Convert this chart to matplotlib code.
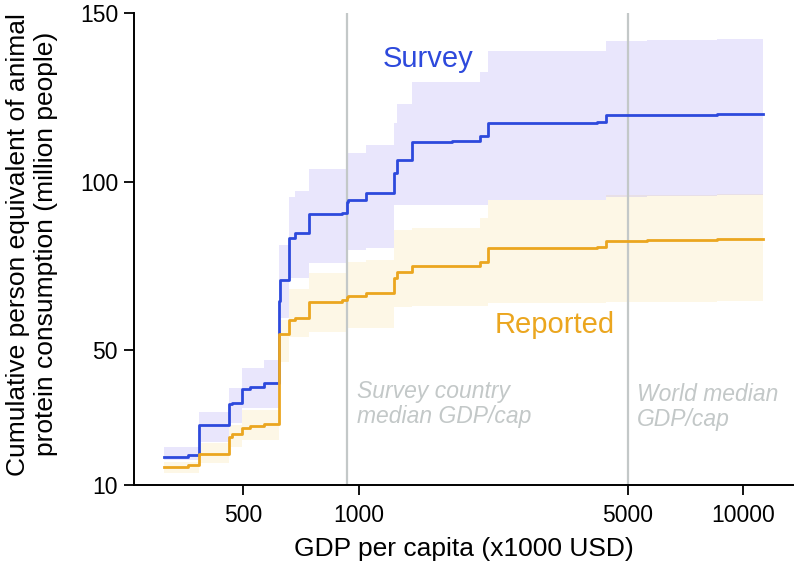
import matplotlib

matplotlib.use("Agg")
import matplotlib.pyplot as plt

plt.rcParams["font.family"] = ["Liberation Sans", "DejaVu Sans"]

# step breakpoints (GDP per capita); last entry is where the curves end
gdp = [311, 359, 383, 459, 469, 498, 520, 567, 619, 623, 659, 681, 743, 902, 929, 938,
       1041, 1236, 1254, 1372, 1743, 2065, 2171, 4155, 4385, 5608, 8527, 11270]

survey = [18.4, 18.8, 27.8, 33.9, 34.2, 38.5, 39.2, 40.3, 64.7, 70.8, 83.2, 84.7, 90.3, 90.8, 94.0, 94.5,
          96.5, 102.5, 106.4, 111.7, 112.1, 113.5, 117.3, 117.8, 119.6, 119.8, 120.1, 120.1]
survey_hi = [21.2, 21.2, 31.7, 38.7, 38.7, 44.6, 44.6, 47.1, 81.2, 81.2, 95.5, 97.3, 103.6, 103.6, 108.4, 108.4,
             110.8, 117.5, 123.0, 129.4, 129.6, 132.6, 138.7, 138.7, 141.8, 142.0, 142.3, 142.3]
survey_lo = [17.4, 17.4, 22.9, 28.3, 28.3, 32.7, 32.7, 32.7, 59.4, 59.4, 71.3, 71.3, 75.9, 75.9, 79.7, 79.7,
             80.2, 93.0, 93.0, 93.1, 93.1, 93.1, 94.5, 94.5, 95.5, 95.7, 96.0, 96.0]

reported = [15.3, 15.8, 19.1, 24.3, 25.0, 27.0, 27.5, 28.0, 54.7, 54.9, 58.9, 59.4, 64.2, 64.9, 65.9, 66.2,
            66.9, 71.3, 73.3, 75.1, 75.1, 76.2, 80.4, 80.7, 82.5, 82.6, 82.9, 82.9]
reported_hi = [16.9, 16.9, 22.4, 27.8, 27.8, 32.2, 32.2, 32.2, 59.0, 59.0, 68.0, 68.0, 72.8, 72.8, 76.2, 76.2,
               76.7, 85.6, 85.6, 86.1, 86.1, 89.1, 94.5, 94.5, 96.0, 96.0, 96.3, 96.3]
reported_lo = [13.5, 13.5, 16.4, 21.4, 21.4, 23.3, 23.3, 23.3, 46.6, 46.6, 54.0, 54.0, 55.5, 55.5, 56.5, 56.5,
               56.5, 62.9, 62.9, 63.2, 63.2, 63.2, 64.0, 64.0, 64.3, 64.3, 64.5, 64.5]

median_lines = [932, 5000]
x_ticks = [500, 1000, 5000, 10000]
y_ticks = [10, 50, 100, 150]

BLUE = "#2d49dc"
ORANGE = "#eba61f"
GREY = "#c3c8c8"

fig = plt.figure(figsize=(7.96, 5.65), dpi=100)
ax = fig.add_axes([134 / 796, 80 / 565, 659 / 796, 472 / 565])

ax.fill_between(gdp, reported_lo, reported_hi, step="post", color="#f2c232", alpha=0.12, lw=0)
ax.fill_between(gdp, survey_lo, survey_hi, step="post", color="#6f5cf0", alpha=0.15, lw=0)

for xv in median_lines:
    ax.axvline(xv, color=GREY, lw=1.6, zorder=1)

ax.step(gdp, survey, where="post", color=BLUE, lw=2.0, zorder=3)
ax.step(gdp, reported, where="post", color=ORANGE, lw=2.0, zorder=3)

ax.text(1155, 134.1, "Survey", color=BLUE, fontsize=21, va="baseline")
ax.text(2259, 55.0, "Reported", color=ORANGE, fontsize=21, va="baseline")
ax.text(986, 28.5, "Survey country\nmedian GDP/cap", color=GREY, fontsize=16.5,
        style="italic", va="baseline", linespacing=1.1)
ax.text(5300, 27.5, "World median\nGDP/cap", color=GREY, fontsize=16.5,
        style="italic", va="baseline", linespacing=1.1)

ax.set_xscale("log")
ax.set_xlim(260, 13470)
ax.set_ylim(10, 150)
ax.set_xticks(x_ticks)
ax.set_xticklabels([str(t) for t in x_ticks])
ax.minorticks_off()
ax.set_yticks(y_ticks)

for side in ["top", "right"]:
    ax.spines[side].set_visible(False)
for side in ["left", "bottom"]:
    ax.spines[side].set_linewidth(1.4)
ax.tick_params(axis="both", labelsize=16.5, length=7.5, width=1.3, color="black")
ax.tick_params(axis="x", pad=6.5)
ax.tick_params(axis="y", pad=4)

ax.set_xlabel("GDP per capita (x1000 USD)", fontsize=19, labelpad=7)
ax.set_ylabel("Cumulative person equivalent of animal\nprotein consumption (million people)",
              fontsize=19)
ax.yaxis.set_label_coords(-0.115, 0.51)

fig.savefig("out.png", dpi=100)
